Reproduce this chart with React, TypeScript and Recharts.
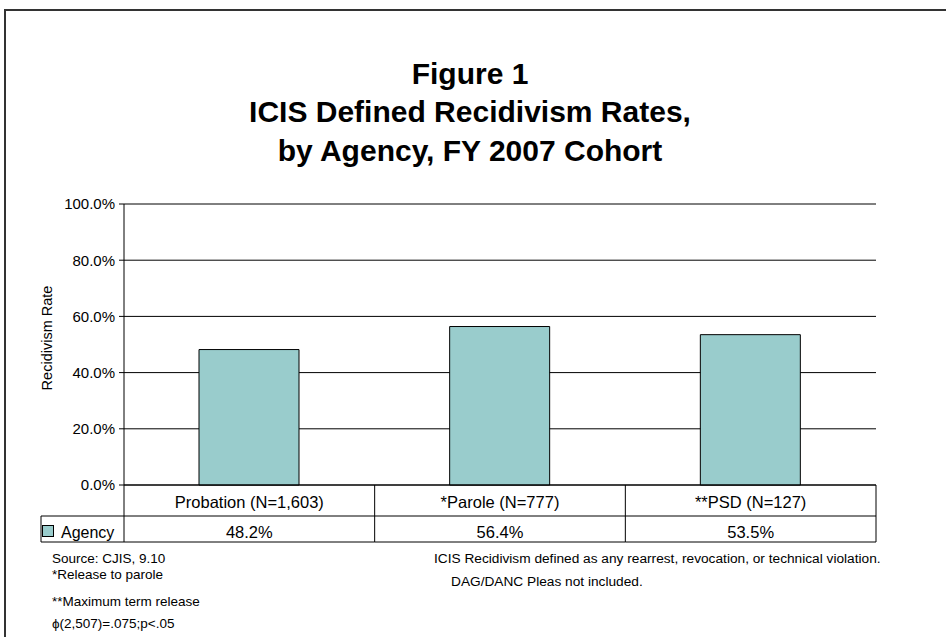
import { BarChart, Bar, XAxis, YAxis, CartesianGrid } from "recharts";

// chart values
const categories = ["Probation (N=1,603)", "*Parole (N=777)", "**PSD (N=127)"];
const agencyRates = [48.2, 56.4, 53.5];
const yTicks = [0, 20, 40, 60, 80, 100];
const seriesName = "Agency";

const titleLines = [
  "Figure 1",
  "ICIS Defined Recidivism Rates,",
  "by Agency, FY 2007 Cohort",
];
const yAxisTitle = "Recidivism Rate";
const leftNotes = [
  "Source: CJIS, 9.10",
  "*Release to parole",
  "**Maximum term release",
  "\u03D5(2,507)=.075;p<.05",
];
const rightNotes = [
  "ICIS Recidivism defined as any rearrest, revocation, or technical violation.",
  "DAG/DANC Pleas not included.",
];

const data = categories.map((name, i) => ({ name, rate: agencyRates[i] }));

const W = 946;
const H = 637;
const PLOT_LEFT = 124;
const PLOT_RIGHT = 876;
const PLOT_TOP = 204;
const Y_AXIS_W = 60;
const X_AXIS_H = 57; // category row + value row of the data table
const TABLE_BOTTOM = 542;
const LEGEND_LEFT = 41;
const FONT = "Arial, 'Liberation Sans', Helvetica, sans-serif";
const BAR_FILL = "#99CCCC";
const LINE = "#000";

const fmtPct = (v: number) => `${v.toFixed(1)}%`;

// x axis tick drawn as one column of the data table under the plot
function TableTick(props: any) {
  const { x, y, payload, index } = props;
  const band = (PLOT_RIGHT - PLOT_LEFT) / categories.length;
  const left = x - band / 2;
  const right = x + band / 2;
  const midY = y + 31;
  const botY = y + X_AXIS_H;
  const value = agencyRates[index];
  return (
    <g>
      <text x={x} y={y + 23} textAnchor="middle" fontSize={16.5} fontFamily={FONT} fill="#000">
        {payload.value}
      </text>
      <text x={x} y={y + 53} textAnchor="middle" fontSize={16.5} fontFamily={FONT} fill="#000">
        {fmtPct(value)}
      </text>
      <line x1={left} y1={midY} x2={right} y2={midY} stroke={LINE} />
      <line x1={left} y1={botY} x2={right} y2={botY} stroke={LINE} />
      <line x1={right} y1={y} x2={right} y2={botY} stroke={LINE} />
      {index === 0 && (
        <g>
          <line x1={left} y1={y} x2={left} y2={botY} stroke={LINE} />
          <line x1={LEGEND_LEFT} y1={midY} x2={left} y2={midY} stroke={LINE} />
          <line x1={LEGEND_LEFT} y1={botY} x2={left} y2={botY} stroke={LINE} />
          <line x1={LEGEND_LEFT} y1={midY} x2={LEGEND_LEFT} y2={botY} stroke={LINE} />
          <rect x={LEGEND_LEFT + 1.5} y={y + 40.5} width={11} height={11} fill={BAR_FILL} stroke="#000" />
          <text x={LEGEND_LEFT + 20} y={y + 53} fontSize={16} fontFamily={FONT} fill="#000">
            {seriesName}
          </text>
        </g>
      )}
    </g>
  );
}

export default function App() {
  return (
    <div
      style={{
        position: "absolute",
        left: 0,
        top: 0,
        width: W,
        height: H,
        overflow: "hidden",
        background: "#fff",
        fontFamily: FONT,
      }}
    >
      {/* outer frame, only top and left edges fall inside the picture */}
      <div
        style={{
          position: "absolute",
          left: 4,
          top: 9,
          width: 2000,
          height: 2000,
          borderTop: "2px solid #333",
          borderLeft: "2px solid #333",
        }}
      />
      <div style={{ position: "absolute", left: 0, top: 0 }}>
        <BarChart
          width={W}
          height={H}
          data={data}
          margin={{
            top: PLOT_TOP,
            right: W - PLOT_RIGHT,
            bottom: H - TABLE_BOTTOM,
            left: PLOT_LEFT - Y_AXIS_W,
          }}
          barSize={100}
        >
          <CartesianGrid vertical={false} stroke={LINE} strokeOpacity={1} />
          <XAxis
            dataKey="name"
            height={X_AXIS_H}
            interval={0}
            tickSize={0}
            tickMargin={0}
            tickLine={false}
            axisLine={{ stroke: LINE }}
            tick={<TableTick />}
          />
          <YAxis
            width={Y_AXIS_W}
            domain={[0, 100]}
            ticks={yTicks}
            tickFormatter={fmtPct}
            tickSize={5}
            tickMargin={4}
            tickLine={{ stroke: LINE }}
            axisLine={{ stroke: LINE }}
            tick={{ fill: "#000", fontSize: 15, fontFamily: FONT }}
          />
          <YAxis
            yAxisId="frame"
            orientation="right"
            width={0}
            domain={[0, 100]}
            tick={false}
            tickLine={false}
            axisLine={{ stroke: LINE }}
          />
          <Bar
            dataKey="rate"
            name={seriesName}
            fill={BAR_FILL}
            stroke="#000"
            strokeWidth={1}
            isAnimationActive={false}
          />
        </BarChart>
      </div>
      <svg
        width={W}
        height={H}
        style={{ position: "absolute", left: 0, top: 0, pointerEvents: "none" }}
      >
        {titleLines.map((t, i) => (
          <text
            key={t}
            x={470}
            y={[84, 122, 161][i]}
            textAnchor="middle"
            fontSize={30}
            fontWeight="bold"
            fontFamily={FONT}
            fill="#000"
          >
            {t}
          </text>
        ))}
        <text
          transform="translate(52,338) rotate(-90)"
          textAnchor="middle"
          fontSize={14.5}
          fontFamily={FONT}
          fill="#000"
        >
          {yAxisTitle}
        </text>
        {leftNotes.map((t, i) => (
          <text key={t} x={52} y={[563, 579, 606, 628][i]} fontSize={13.5} fontFamily={FONT} fill="#000">
            {t}
          </text>
        ))}
        <text x={434} y={563} fontSize={13.7} fontFamily={FONT} fill="#000">
          {rightNotes[0]}
        </text>
        <text x={451} y={586} fontSize={13.7} fontFamily={FONT} fill="#000">
          {rightNotes[1]}
        </text>
      </svg>
    </div>
  );
}
